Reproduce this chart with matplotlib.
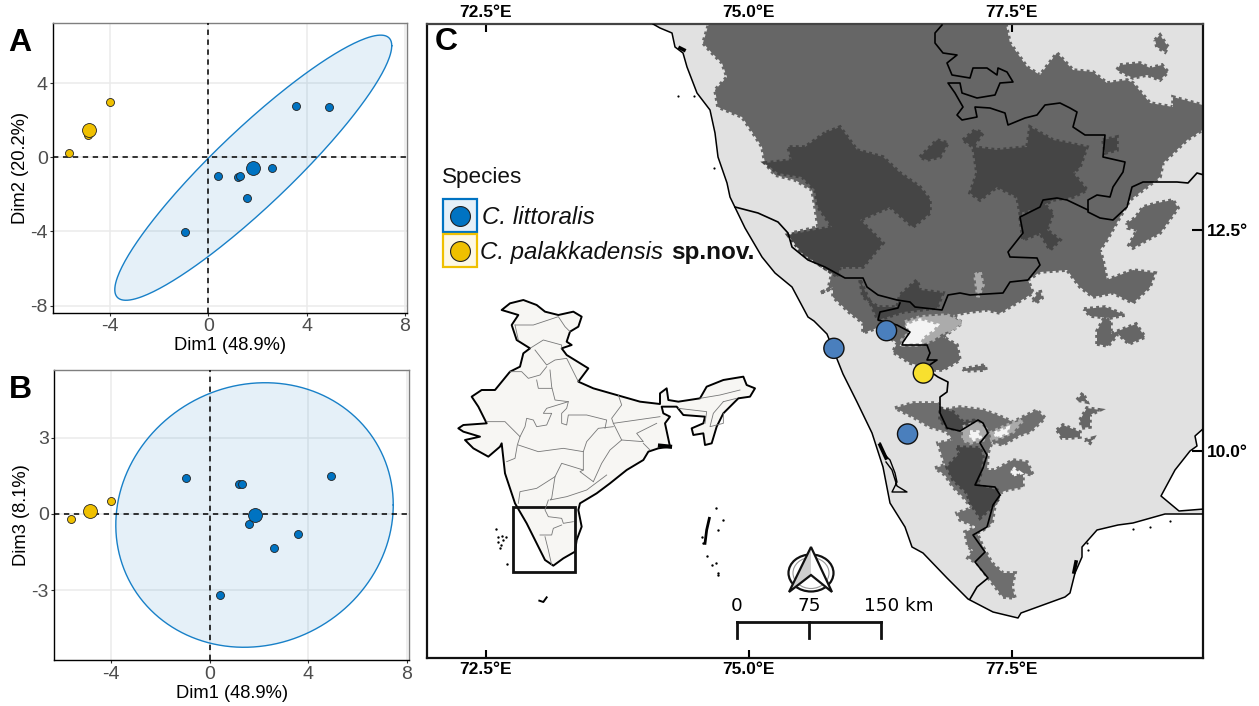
import numpy as np
import matplotlib
matplotlib.use("Agg")
import matplotlib.pyplot as plt
from matplotlib.patches import Polygon, Rectangle, Ellipse

plt.rcParams['font.family'] = ['Liberation Sans', 'DejaVu Sans']
plt.rcParams['axes.unicode_minus'] = False

W, H = 1259, 706

# PCA scores
dim1 = [-0.95, 0.4, 1.2, 1.3, 1.58, 2.6, 3.57, 4.92]
dim2 = [-4.05, -1.0, -1.07, -1.0, -2.2, -0.55, 2.75, 2.72]
dim3 = [1.43, -3.2, 1.18, 1.18, -0.4, -1.33, -0.8, 1.5]
mean_blue = [1.83, -0.55, -0.03]

gold1 = [-5.66, -4.0, -4.87]
gold2 = [0.22, 3.0, 1.2]
gold3 = [-0.2, 0.5, 0.1]
mean_gold = [-4.85, 1.47, 0.1]

# ellipses: centre x, centre y, spread x, spread y, correlation
ell_a = [1.83, -0.56, 5.63, 7.15, 0.92]
ell_b = [1.82, -0.04, 5.64, 5.2, 0.076]

pca_xticks = [-4, 0, 4, 8]
a_yticks = [-8, -4, 0, 4]
b_yticks = [-3, 0, 3]

# map ticks and sites (degrees)
lon_ticks = [72.5, 75.0, 77.5]
lat_ticks = [10.0, 12.5]
site_lon = [75.81, 76.31, 76.51, 76.66]
site_lat = [11.16, 11.36, 10.19, 10.88]
site_col = ['#4A7FBD', '#4A7FBD', '#4A7FBD', '#F8E02E']
scale_km = [0, 75, 150]

coast = [(653,24),(660,28),(672,33),(675,47),(683,53),(687,67),(697,93),(710,110),(715,133),(718,157),
         (727,183),(730,197),(745,228),(762,257),(775,273),(792,287),(808,317),(814,321),(827,334),(843,374),
         (857,402),(872,433),(883,467),(890,503),(905,527),(912,547),(923,553),(947,578),(968,599),(993,612),
         (1018,618),(1021,613),(1043,605),(1065,597),(1070,593),(1075,573),(1082,557),(1082,547),(1097,530),
         (1118,525),(1133,523),(1165,514),(1204,514),(1204,509),(1179,511),(1161,496),(1175,470),(1190,451),
         (1197,446),(1195,436),(1204,428)]

elev_mid = [(710,20),(703,43),(712,53),(722,63),(727,77),(715,90),(718,107),(742,117),(753,133),(762,147),
            (765,163),(775,175),(795,180),(812,190),(815,207),(818,227),(792,233),(802,253),(832,273),(828,290),
            (820,293),(833,287),(833,297),(850,313),(863,323),(863,333),(877,328),(897,343),(893,352),(910,363),
            (917,365),(933,370),(943,370),(960,360),(957,345),(943,337),(962,323),(953,315),(970,312),(987,310),
            (1000,313),(1010,307),(1033,293),(1028,280),(1040,272),(1067,270),(1080,287),(1093,297),(1113,293),
            (1133,303),(1150,287),(1155,273),(1133,270),(1107,280),(1103,260),(1100,250),(1107,240),(1120,217),
            (1130,200),(1160,177),(1163,163),(1187,140),(1210,125),(1210,107),(1173,97),(1173,107),(1150,103),
            (1133,83),(1127,80),(1107,83),(1093,72),(1073,70),(1057,53),(1040,75),(1027,67),(1010,43),(1005,20)]

elev_mid_south = [(895,408),(913,403),(937,403),(943,410),(960,407),(983,410),(997,415),(1013,422),(1037,410),
                  (1045,418),(1030,432),(1020,435),(1003,445),(992,442),(988,453),(987,470),(995,470),(1013,460),
                  (1027,462),(1033,475),(1023,473),(1023,487),(1007,490),(1000,493),(995,505),(992,523),(983,530),
                  (977,533),(983,547),(992,563),(1003,573),(1015,573),(1012,587),(1015,598),(1003,597),(990,580),
                  (977,563),(968,558),(973,550),(968,547),(965,532),(977,527),(960,520),(957,513),(972,508),
                  (963,497),(953,487),(945,475),(935,468),(945,465),(938,443),(953,440),(947,432),(930,427),(913,417)]

elev_patches = [[(1155,40),(1160,35),(1168,47),(1165,52),(1157,47)],
                [(1120,65),(1140,63),(1150,68),(1162,65),(1168,72),(1160,80),(1147,75),(1133,78),(1117,70)],
                [(1127,223),(1135,218),(1143,207),(1157,203),(1173,200),(1178,208),(1160,233),(1147,240),(1133,248),(1129,245),(1137,230),(1128,228)],
                [(1097,344),(1097,331),(1104,318),(1111,321),(1111,334),(1118,331),(1136,324),(1145,337),(1129,344),(1118,334),(1108,346)],
                [(1084,309),(1105,307),(1125,315),(1110,318),(1090,316)],
                [(963,369),(985,365),(986,370),(965,371)],
                [(1033,300),(1040,290),(1042,298),(1036,303)],
                [(1057,430),(1063,425),(1080,432),(1080,437),(1070,438),(1062,438)],
                [(1080,420),(1087,408),(1100,410),(1090,415),(1090,427),(1082,428)],
                [(1085,440),(1093,438),(1090,443)],
                [(1077,400),(1083,393),(1087,402)]]

elev_dark = [[(825,133),(805,147),(788,147),(792,160),(765,163),(778,173),(802,177),(815,190),(818,207),(832,227),
              (788,235),(802,253),(838,277),(840,267),(863,267),(883,243),(873,233),(860,220),(890,207),(913,227),
              (930,213),(930,200),(920,187),(900,173),(883,157),(857,150),(840,127)],
             [(973,147),(997,150),(1027,147),(1030,127),(1053,140),(1087,147),(1080,167),(1073,173),(1087,190),
              (1073,197),(1053,200),(1040,207),(1020,213),(1017,197),(997,187),(980,200),(970,193),(977,173)],
             [(963,140),(975,130),(983,133),(973,147)],
             [(920,157),(937,140),(948,143),(940,157),(927,160)],
             [(1103,140),(1117,137),(1117,150),(1105,153)],
             [(1020,217),(1043,203),(1053,213),(1047,230),(1060,240),(1050,250),(1040,233),(1023,240)],
             [(860,280),(863,297),(878,307),(897,307),(900,295),(917,280),(920,290),(943,293),(937,308),(903,312),(878,320)],
             [(957,447),(980,448),(983,457),(980,477),(977,485),(997,490),(1000,497),(992,507),(980,518),(977,513),(970,503),(967,493),(953,480),(947,467),(960,453)],
             [(940,408),(953,412),(963,422),(977,420),(960,430),(947,428),(940,420)]]

elev_light = [[(905,322),(920,317),(947,315),(962,322),(953,330),(943,333),(933,340),(920,345),(903,345),(902,340),(910,332)],
              [(963,427),(978,422),(987,430),(983,440),(970,443),(963,440)],
              [(990,433),(1003,427),(1013,423),(1023,420),(1013,432),(1000,438),(992,440)],
              [(975,275),(980,272),(983,285),(978,297)]]

elev_white = [[(907,325),(920,320),(937,325),(933,330),(923,337),(920,343),(903,344),(910,333)],
              [(970,432),(978,432),(980,437),(972,440)],
              [(995,433),(1008,428),(1007,433),(997,437)],
              [(1013,468),(1020,473),(1012,475)]]

border_a = [(942,25),(935,33),(935,43),(943,53),(957,55),(947,63),(952,75),(970,78),(973,68),(987,68),(997,75),
            (998,68),(1007,72),(1013,82),(1000,83),(995,95),(977,98),(962,93),(960,83),(948,83),(955,93),(963,107),
            (957,115),(962,120),(977,117),(975,107),(990,108),(1005,113),(1008,125),(1025,118),(1037,115),(1045,105),
            (1060,103),(1070,108),(1077,112),(1073,127),(1085,135),(1105,135),(1103,157),(1125,162),(1123,172),
            (1113,187),(1110,197),(1097,195),(1088,200),(1088,212),(1100,218),(1113,220),(1127,207),(1132,187),
            (1143,182),(1160,182),(1177,182),(1188,183),(1197,173),(1204,175)]
border_b = [(735,207),(758,213),(778,222),(788,233),(792,247),(808,260),(825,267),(845,278),(863,278),(867,287),
            (878,295),(897,300),(910,302),(915,307),(942,310),(948,295),(960,293),(970,295),(1003,293),(1010,282),
            (1028,280),(1040,265),(1037,258),(1010,257),(1008,252),(1023,233),(1020,217),(1040,207),(1043,200),
            (1057,198),(1067,200),(1088,210)]
border_c = [(900,303),(898,308),(880,312),(878,320),(897,325),(910,332),(903,342),(902,345),(927,345),(930,353),
            (927,360),(937,360),(925,368),(938,377),(948,382),(947,392),(940,397),(940,413),(947,428),(960,431),
            (978,420),(983,423),(988,433),(980,443),(987,455),(983,468),(975,485),(995,487),(1000,495),(993,505),
            (987,527),(973,535),(985,552),(975,562),(988,578),(977,587),(970,599)]
backwater = [(880,443),(883,453),(890,460),(895,473),(897,482),(892,492),(907,492),(897,486),(892,470),(886,462)]
coast_dots = [(678,96),(694,96),(714,168),(1133,529),(1150,527),(1170,521),(1087,543),(1088,550)]
coast_blobs = [[(680,48),(684,50)], [(1074,572),(1076,562)], [(880,445),(886,458)]]

# inset map of India, in its own grid
india = [(280,60),(320,75),(345,95),(385,105),(430,95),(455,110),(445,140),(420,155),(410,185),(425,195),(395,205),
         (410,225),(475,265),(445,305),(490,325),(560,345),(630,365),(690,372),(690,340),(710,325),(715,360),(745,365),
         (810,355),(830,320),(880,300),(940,290),(950,315),(975,325),(960,350),(925,355),(880,400),(860,440),(845,490),
         (825,495),(820,460),(790,465),(785,445),(820,430),(825,410),(760,405),(740,380),(695,380),(700,400),(720,410),
         (705,430),(720,500),(685,505),(655,515),(640,540),(590,570),(540,610),(500,640),(450,670),(445,690),(455,740),
         (440,780),(435,815),(400,835),(370,857),(345,840),(320,790),(290,730),(255,670),(225,580),(215,490),(210,500),
         (175,530),(130,505),(105,480),(150,470),(100,455),(85,445),(100,435),(170,430),(145,380),(125,350),(155,330),
         (195,330),(240,275),(270,260),(280,220),(300,205),(260,180),(245,135),(265,105),(215,90),(240,70)]
india_states = [[(255,135),(310,135),(385,110),(405,140),(420,155)],
                [(255,135),(265,180)],
                [(300,205),(340,180),(395,195),(395,205)],
                [(315,210),(350,255),(375,240),(410,235),(445,305)],
                [(240,275),(275,275),(295,295),(330,285),(350,260)],
                [(320,300),(325,325),(365,325)],
                [(360,270),(365,320),(375,360),(415,365),(410,385),(395,400),(395,430),(410,435),(415,405),(470,405),(530,420),(525,445)],
                [(415,365),(350,385),(340,400),(365,400),(350,435),(320,440),(310,420),(290,415),(285,440),(270,470)],
                [(170,425),(225,425),(260,460),(270,470),(262,495),(255,535),(230,545)],
                [(265,495),(325,515),(400,505),(460,515),(470,485),(505,445),(550,440)],
                [(565,345),(575,375),(545,415),(550,430),(620,420),(690,410)],
                [(550,430),(575,480),(640,485),(620,460),(680,430)],
                [(575,480),(540,510),(515,550),(490,605)],
                [(460,515),(460,570),(450,575),(490,605)],
                [(640,490),(660,510)],
                [(460,570),(395,550),(375,590),(320,625),(270,635),(265,670)],
                [(375,590),(365,655),(360,660),(410,650),(470,630),(530,585)],
                [(355,660),(345,690),(355,710),(395,715),(400,730),(430,725)],
                [(395,735),(370,745),(365,765),(330,765)],
                [(345,770),(355,810),(365,855)],
                [(810,355),(870,345),(930,330)],
                [(745,385),(830,395),(825,430)],
                [(880,365),(850,400),(840,440),(880,430),(880,400)],
                [(920,355),(880,365)]]
island_x = [197,204,215,228,220,205,213,210,232,857,878,865,815,832,845,857,863,863,820]
island_y = [746,772,768,770,780,785,795,805,852,683,720,750,770,828,855,850,878,885,790]
box_x = [250, 435]
box_y = [680, 877]

BLUE = '#0073C2'
GOLD = '#EFC000'


def lon_of(px):
    return 72.5 + (np.asarray(px, dtype=float) - 485.7) / 105.2


def lat_of(py):
    return 12.5 + (230 - np.asarray(py, dtype=float)) / 88.3


def to_deg(pts):
    pts = np.array(pts, dtype=float)
    return np.column_stack([lon_of(pts[:, 0]), lat_of(pts[:, 1])])


def add_axes_px(x0, y0, x1, y1):
    return fig.add_axes([x0 / W, 1 - y1 / H, (x1 - x0) / W, (y1 - y0) / H])


def elev_patch(ax, pts, col, z):
    # dotted edge in the fill colour gives the blocky raster look
    ax.add_patch(Polygon(to_deg(pts), closed=True, fc=col, ec=col, lw=2.6, ls=(0, (0.8, 0.9)), zorder=z))


def pca_panel(ax, xs, ys, gx, gy, mean_x, mean_y, ell, yticks, ylabel, xlim, ylim):
    ax.set_axisbelow(True)
    ax.grid(True, color='#EBEBEB', lw=1.1)
    t = np.linspace(0, 2 * np.pi, 300)
    r = ell[4]
    ex = ell[0] + ell[2] * np.cos(t)
    ey = ell[1] + ell[3] * (r * np.cos(t) + np.sqrt(1 - r ** 2) * np.sin(t))
    ax.fill(ex, ey, color=BLUE, alpha=0.1, lw=0, zorder=1)
    ax.plot(ex, ey, color=BLUE, lw=1.0, alpha=0.9, zorder=2)
    ax.axhline(0, color='black', lw=1.1, ls=(0, (3.5, 3)), zorder=3)
    ax.axvline(0, color='black', lw=1.1, ls=(0, (3.5, 3)), zorder=3)
    ax.scatter(gx, gy, s=33, color=GOLD, edgecolor='#222222', lw=0.6, zorder=4)
    ax.scatter(xs, ys, s=33, color=BLUE, edgecolor='#222222', lw=0.6, zorder=4)
    ax.scatter(mean_x[1], mean_y[1], s=100, color=GOLD, edgecolor='#222222', lw=0.6, zorder=5)
    ax.scatter(mean_x[0], mean_y[0], s=100, color=BLUE, edgecolor='#222222', lw=0.6, zorder=5)
    ax.set_xlim(xlim)
    ax.set_ylim(ylim)
    ax.set_xticks(pca_xticks)
    ax.set_xticklabels([str(v) for v in pca_xticks])
    ax.set_yticks(yticks)
    ax.set_yticklabels([str(v) for v in yticks])
    ax.tick_params(labelsize=14, labelcolor='#4D4D4D', color='#333333', length=2.5, width=0.8, pad=1.5)
    ax.set_xlabel('Dim1 (48.9%)', fontsize=13.2, labelpad=1.5)
    ax.set_ylabel(ylabel, fontsize=13.2, labelpad=1.0)
    ax.spines['top'].set_color('#7F7F7F')
    ax.spines['right'].set_color('#7F7F7F')
    for side in ['left', 'bottom']:
        ax.spines[side].set_color('black')
    for s in ax.spines.values():
        s.set_linewidth(1.0)


fig = plt.figure(figsize=(W / 100, H / 100), dpi=100)

ax_a = add_axes_px(53.3, 22.7, 407, 312.7)
pca_panel(ax_a, dim1, dim2, gold1, gold2, [mean_blue[0], mean_gold[0]], [mean_blue[1], mean_gold[1]],
          ell_a, a_yticks, 'Dim2 (20.2%)', (-6.3, 8.08), (-8.38, 7.26))
ax_b = add_axes_px(54.3, 370, 409, 660)
pca_panel(ax_b, dim1, dim3, gold1, gold3, [mean_blue[0], mean_gold[0]], [mean_blue[2], mean_gold[2]],
          ell_b, b_yticks, 'Dim3 (8.1%)', (-6.32, 8.1), (-5.74, 5.66))

# map
ax = add_axes_px(427, 24, 1203, 657.5)
ax.set_xlim(lon_of(427), lon_of(1203))
ax.set_ylim(lat_of(657.5), lat_of(24))

land = to_deg(coast + [(1210, 428), (1210, 15), (653, 15)])
ax.add_patch(Polygon(land, closed=True, fc='#E1E1E1', ec='none', zorder=1))
elev_patch(ax, elev_mid, '#666666', 2)
elev_patch(ax, elev_mid_south, '#6E6E6E', 2)
for p in elev_patches:
    elev_patch(ax, p, '#666666', 2)
for p in elev_dark:
    elev_patch(ax, p, '#454545', 3)
for p in elev_light:
    elev_patch(ax, p, '#ABABAB', 4)
for p in elev_white:
    elev_patch(ax, p, '#F4F4F4', 5)

c = to_deg(coast)
ax.plot(c[:, 0], c[:, 1], color='black', lw=1.1, zorder=6)
for b in [border_a, border_b, border_c]:
    d = to_deg(b)
    ax.plot(d[:, 0], d[:, 1], color='black', lw=1.2, zorder=6)
d = to_deg(backwater)
ax.plot(d[:, 0], d[:, 1], color='black', lw=1.0, zorder=6)
for b in coast_blobs:
    d = to_deg(b)
    ax.plot(d[:, 0], d[:, 1], color='black', lw=2.6, zorder=6)
d = to_deg(coast_dots)
ax.scatter(d[:, 0], d[:, 1], s=2.5, color='black', lw=0, zorder=6)

ax.scatter(site_lon, site_lat, s=210, c=site_col, edgecolor='#111111', lw=1.0, zorder=8)

ax.set_xticks(lon_ticks)
ax.set_xticklabels([f'{v:.1f}°E' for v in lon_ticks])
ax.set_yticks(lat_ticks)
ax.set_yticklabels([f'{v:.1f}°' for v in lat_ticks])
ax.yaxis.tick_right()
ax.tick_params(axis='x', which='both', top=True, bottom=True, labeltop=True, labelbottom=True,
               direction='in', length=6, width=1.5, pad=3)
ax.tick_params(axis='y', direction='in', length=8, width=1.5, pad=3)
for lab in ax.get_xticklabels() + ax.get_yticklabels():
    lab.set_fontweight('bold')
    lab.set_fontsize(12.5)
for s in ax.spines.values():
    s.set_linewidth(1.6)
    s.set_color('#111111')
ax.spines['top'].set_color('#444444')

# scale bar
bar_lon = lon_of(737) + np.array(scale_km) / 109.3
ax.plot([bar_lon[0], bar_lon[-1]], [lat_of(622), lat_of(622)], color='#111111', lw=2, zorder=7, solid_capstyle='projecting')
for v in bar_lon:
    ax.plot([v, v], [lat_of(622), lat_of(638)], color='#111111', lw=2, zorder=7)
ax.text(bar_lon[0], lat_of(606), '0', ha='center', va='center', fontsize=13.2, family='DejaVu Sans', zorder=7)
ax.text(bar_lon[1], lat_of(606), '75', ha='center', va='center', fontsize=13.2, family='DejaVu Sans', zorder=7)
ax.text(lon_of(864), lat_of(606), '150 km', ha='left', va='center', fontsize=13.2, family='DejaVu Sans', zorder=7)

# inset
ins = add_axes_px(430, 280, 770, 620)
ins.set_xlim(0, 1020)
ins.set_ylim(1020, 0)
ins.axis('off')
ins.patch.set_alpha(0)
ins.add_patch(Polygon(india, closed=True, fc='#F7F6F3', ec='black', lw=1.4, joinstyle='round'))
for st in india_states:
    xs, ys = zip(*st)
    ins.plot(xs, ys, color='#777777', lw=0.6)
ins.plot([690, 720], [497, 500], color='black', lw=3)
ins.plot([838, 830, 825], [715, 750, 790], color='black', lw=2)
ins.plot([328, 340, 350], [962, 966, 952], color='black', lw=1.4)
ins.scatter(island_x, island_y, s=3, color='black', lw=0)
ins.add_patch(Rectangle((box_x[0], box_y[0]), box_x[1] - box_x[0], box_y[1] - box_y[0], fc='none', ec='#111111', lw=2))

# overlay for panel letters, legend and north arrow
top = fig.add_axes([0, 0, 1, 1])
top.set_xlim(0, W)
top.set_ylim(H, 0)
top.axis('off')
top.patch.set_alpha(0)

for letter, x, y in [('A', 20, 43), ('B', 20, 390), ('C', 446, 42)]:
    top.text(x, y, letter, ha='center', va='center', fontsize=23, fontweight='bold',
             family=['Liberation Sans Narrow', 'Liberation Sans'])

top.text(442, 177, 'Species', ha='left', va='center', fontsize=16.2, color='#111111')
for y0, col in [(199, BLUE), (234, GOLD)]:
    top.add_patch(Rectangle((443, y0), 34, 33, fc=col, alpha=0.1, ec='none'))
    top.add_patch(Rectangle((443, y0), 34, 33, fc='none', ec=col, lw=1.6))
    top.scatter([460], [y0 + 17], s=205, color=col, edgecolor='#222222', lw=0.8, zorder=5)
top.text(482, 217, 'C. littoralis', ha='left', va='center', fontsize=17.4, style='italic', color='#111111')
top.text(480, 253, 'C. palakkadensis', ha='left', va='center', fontsize=17.3, style='italic', color='#111111')
top.text(671, 253, 'sp.nov.', ha='left', va='center', fontsize=17.5, fontweight='bold', color='#111111')

# north arrow
top.add_patch(Ellipse((811, 573), 45, 37, fc='white', ec='#111111', lw=1.6, zorder=3))
top.add_patch(Ellipse((811, 573), 36, 31, fc='none', ec='#999999', lw=0.8, zorder=3))
top.add_patch(Polygon([(811, 547), (789, 592), (811, 575)], closed=True, fc='#CFCFCF', ec='none', zorder=4))
top.add_patch(Polygon([(811, 547), (832, 592), (811, 575)], closed=True, fc='white', ec='none', zorder=4))
top.add_patch(Polygon([(811, 547), (832, 592), (811, 575), (789, 592)], closed=True, fc='none', ec='#111111', lw=1.6, zorder=5))

fig.savefig('out.png', dpi=100)
